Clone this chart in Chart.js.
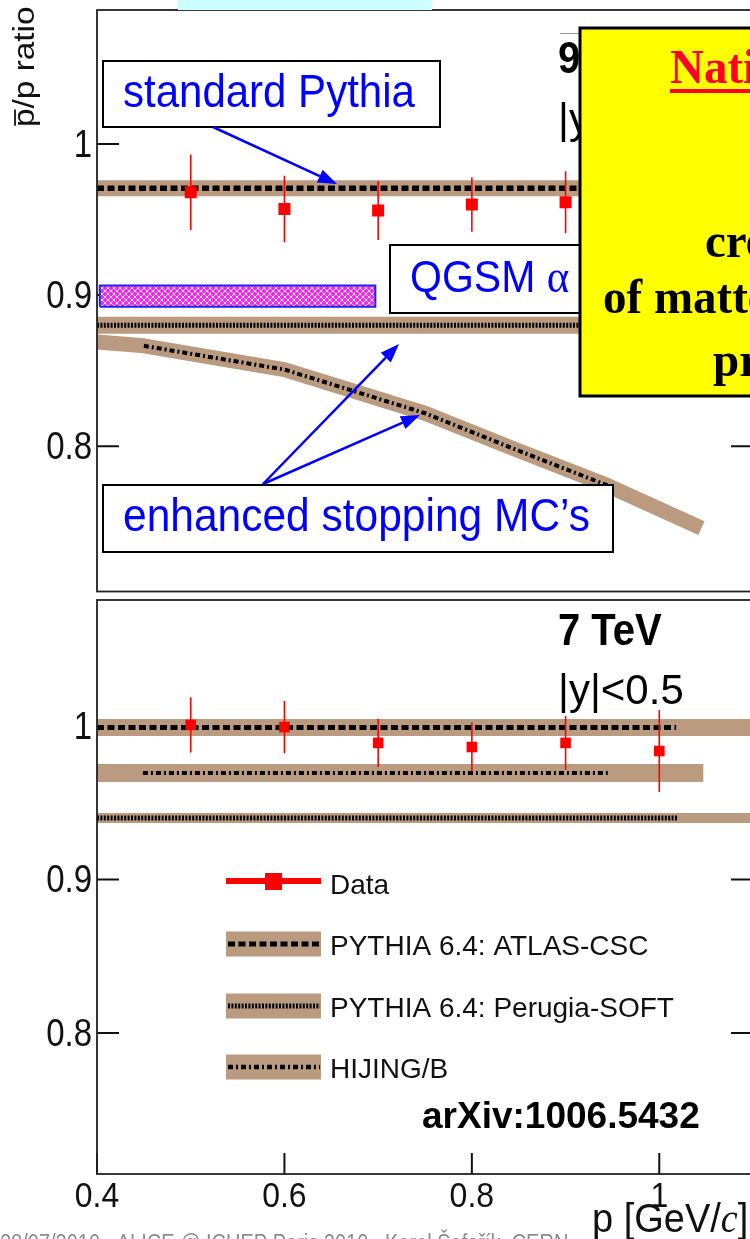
<!DOCTYPE html>
<html>
<head>
<meta charset="utf-8">
<title>pbar/p ratio</title>
<script src="https://cdn.jsdelivr.net/npm/chart.js@4.4.1/dist/chart.umd.min.js"></script>
<style>
  html, body { margin: 0; padding: 0; background: #fff; overflow: hidden; }
  #wrap { position: relative; width: 750px; height: 1239px; overflow: hidden; }
  #topChart { position: absolute; left: 0; top: 0; }
  #bottomChart { position: absolute; left: 0; top: 590px; }
</style>
</head>
<body>
<div id="wrap">
  <canvas id="topChart" width="800" height="600"></canvas>
  <canvas id="bottomChart" width="800" height="650"></canvas>
</div>
<script>
// Данные верхней панели (900 GeV)
var dataX900 = [0.5, 0.6, 0.7, 0.8, 0.9];
var ratio900 = [0.968, 0.957, 0.956, 0.960, 0.9615];
var error900 = [0.025, 0.022, 0.0195, 0.018, 0.0205];
var atlas900X = [0.4, 1.1];
var atlas900Y = [0.9707, 0.9707];
var perugia900X = [0.4, 1.1];
var perugia900Y = [0.880, 0.880];
var hijing900X = [0.4, 0.45, 0.6, 0.75, 0.845, 0.945, 1.045];
var hijing900Y = [0.869, 0.8664, 0.8507, 0.8218, 0.7982, 0.7739, 0.7457];
var qgsmX = [0.403, 0.697];
var qgsmY = [0.8923, 0.9064];

// Данные нижней панели (7 TeV)
var dataX7 = [0.5, 0.6, 0.7, 0.8, 0.9, 1.0];
var ratio7 = [1.0007, 0.9993, 0.989, 0.9863, 0.989, 0.9837];
var error7 = [0.018, 0.017, 0.0157, 0.016, 0.0176, 0.0267];
var atlas7X = [0.4, 1.1];
var atlas7LineX = [0.4, 1.018];
var atlas7Y = [0.999, 0.999];
var hijing7X = [0.4, 1.047];
var hijing7LineX = [0.449, 0.945];
var hijing7Y = [0.9694, 0.9694];
var perugia7X = [0.4, 1.1];
var perugia7LineX = [0.4, 1.02];
var perugia7Y = [0.940, 0.940];

// Оси
var xTicks = [0.4, 0.6, 0.8, 1];
var xTickLabels = ['0.4', '0.6', '0.8', '1'];
var yTicks = [1, 0.9, 0.8];
var yTickLabels = ['1', '0.9', '0.8'];
var legendLabels = ['Data', 'PYTHIA 6.4: ATLAS-CSC', 'PYTHIA 6.4: Perugia-SOFT', 'HIJING/B'];

var SANS = "'Liberation Sans', Arial, sans-serif";
var SERIF = "'Liberation Serif', 'Times New Roman', serif";
var BAND = 'rgb(186,155,128)';
var BLUE = '#0000ff';
var ATLAS_DASH = [7, 3.5];
var PERUGIA_DASH = [2, 1.4];
var HIJING_DASH = [5, 3, 2, 3];

function toPoints(xs, ys) {
  return xs.map(function(x, i) { return { x: x, y: ys[i] }; });
}

function dataSet(xs, ys, errs, radius) {
  return {
    data: toPoints(xs, ys),
    errors: errs,
    showLine: false,
    pointStyle: 'rect',
    pointRadius: radius,
    backgroundColor: '#ff0000',
    borderWidth: 0
  };
}

function bandSet(xs, ys, width) {
  return {
    data: toPoints(xs, ys),
    showLine: true,
    borderColor: BAND,
    borderWidth: width,
    borderCapStyle: 'butt',
    borderJoinStyle: 'round',
    pointRadius: 0,
    tension: 0,
    fill: false
  };
}

function lineSet(xs, ys, dash, width) {
  return {
    data: toPoints(xs, ys),
    showLine: true,
    borderColor: '#000',
    borderWidth: width,
    borderDash: dash,
    borderCapStyle: 'butt',
    pointRadius: 0,
    tension: 0,
    fill: false
  };
}

// Штриховка для полосы QGSM
function makeHatch() {
  var c = document.createElement('canvas');
  c.width = 6; c.height = 6;
  var g = c.getContext('2d');
  g.fillStyle = '#ff22ff';
  g.fillRect(0, 0, 6, 6);
  g.strokeStyle = 'rgba(255,255,255,0.9)';
  g.lineWidth = 1;
  g.beginPath();
  g.moveTo(0, 0); g.lineTo(6, 6);
  g.moveTo(6, 0); g.lineTo(0, 6);
  g.stroke();
  return g.createPattern(c, 'repeat');
}

function qgsmSet() {
  var xs = [qgsmX[0], qgsmX[0], qgsmX[1], qgsmX[1], qgsmX[0]];
  var ys = [qgsmY[0], qgsmY[1], qgsmY[1], qgsmY[0], qgsmY[0]];
  return {
    data: toPoints(xs, ys),
    showLine: true,
    borderColor: '#2020ff',
    borderWidth: 2,
    backgroundColor: makeHatch(),
    pointRadius: 0,
    tension: 0,
    fill: 'shape'
  };
}

// Текст, растянутый по вертикали (как на исходном слайде)
function stretchText(ctx, text, x, y, sy) {
  ctx.save();
  ctx.translate(x, y);
  ctx.scale(1, sy);
  ctx.fillText(text, 0, 0);
  ctx.restore();
}

// Засечки, рамка и погрешности
function drawTicks(chart) {
  var ctx = chart.ctx, a = chart.chartArea, y = chart.scales.y;
  ctx.save();
  ctx.strokeStyle = '#111';
  ctx.lineWidth = 2;
  yTicks.forEach(function(v) {
    var py = y.getPixelForValue(v);
    ctx.beginPath();
    ctx.moveTo(a.left, py); ctx.lineTo(a.left + 22, py);
    ctx.moveTo(a.right - 22, py); ctx.lineTo(a.right, py);
    ctx.stroke();
  });
  ctx.restore();
}

function drawErrors(chart) {
  var ctx = chart.ctx, xs = chart.scales.x, ys = chart.scales.y;
  chart.data.datasets.forEach(function(ds) {
    if (!ds.errors) return;
    ctx.save();
    ctx.strokeStyle = '#ff0000';
    ctx.lineWidth = 1.6;
    ds.data.forEach(function(p, i) {
      var px = xs.getPixelForValue(p.x);
      ctx.beginPath();
      ctx.moveTo(px, ys.getPixelForValue(p.y + ds.errors[i]));
      ctx.lineTo(px, ys.getPixelForValue(p.y - ds.errors[i]));
      ctx.stroke();
    });
    ctx.restore();
  });
}

function drawFrame(chart) {
  var ctx = chart.ctx, a = chart.chartArea;
  ctx.save();
  ctx.strokeStyle = '#222';
  ctx.lineWidth = 1.8;
  ctx.strokeRect(a.left, a.top, a.right - a.left, a.bottom - a.top);
  ctx.restore();
}

function drawYLabels(chart) {
  var ctx = chart.ctx, y = chart.scales.y, a = chart.chartArea;
  ctx.save();
  ctx.fillStyle = '#111';
  ctx.font = '33px ' + SANS;
  ctx.textAlign = 'right';
  yTicks.forEach(function(v, i) {
    stretchText(ctx, yTickLabels[i], a.left - 5, y.getPixelForValue(v) + 13, 1.15);
  });
  ctx.restore();
}

function textBox(ctx, x, y, w, h) {
  ctx.fillStyle = '#fff';
  ctx.fillRect(x, y, w, h);
  ctx.strokeStyle = '#000';
  ctx.lineWidth = 2;
  ctx.strokeRect(x, y, w, h);
}

function arrow(ctx, x1, y1, x2, y2) {
  var ang = Math.atan2(y2 - y1, x2 - x1);
  var len = 19, half = 7;
  var bx = x2 - Math.cos(ang) * len, by = y2 - Math.sin(ang) * len;
  ctx.strokeStyle = BLUE;
  ctx.fillStyle = BLUE;
  ctx.lineWidth = 2.5;
  ctx.beginPath();
  ctx.moveTo(x1, y1); ctx.lineTo(bx, by);
  ctx.stroke();
  ctx.beginPath();
  ctx.moveTo(x2, y2);
  ctx.lineTo(bx + Math.sin(ang) * half, by - Math.cos(ang) * half);
  ctx.lineTo(bx - Math.sin(ang) * half, by + Math.cos(ang) * half);
  ctx.closePath();
  ctx.fill();
}

// Плагин верхней панели
var topPanelPlugin = {
  id: 'topPanel',
  beforeDatasetsDraw: function(chart) { drawTicks(chart); },
  afterDatasetsDraw: function(chart) {
    var ctx = chart.ctx;
    drawErrors(chart);
    drawFrame(chart);
    drawYLabels(chart);

    ctx.save();
    // голубая полоска сверху
    ctx.fillStyle = '#ccffff';
    ctx.fillRect(178, 0, 254, 10);

    // подпись оси Y
    ctx.save();
    ctx.translate(34, 127);
    ctx.rotate(-Math.PI / 2);
    ctx.scale(1.15, 1);
    ctx.fillStyle = '#111';
    ctx.font = '29px ' + SANS;
    ctx.fillText('p/p ratio', 0, 0);
    var pw = ctx.measureText('p').width;
    ctx.strokeStyle = '#111';
    ctx.lineWidth = 1.8;
    ctx.beginPath();
    ctx.moveTo(1, -19); ctx.lineTo(pw - 1, -19);
    ctx.stroke();
    ctx.restore();

    // энергия и быстрота
    ctx.fillStyle = '#000';
    ctx.font = 'bold 40px ' + SANS;
    stretchText(ctx, '900 GeV', 558, 73, 1.1);
    ctx.font = '42px ' + SANS;
    ctx.fillText('|y|<0.5', 558, 133);
    ctx.strokeStyle = '#999';
    ctx.lineWidth = 1;
    ctx.beginPath();
    ctx.moveTo(560, 33.5); ctx.lineTo(600, 33.5);
    ctx.stroke();

    // аннотации
    textBox(ctx, 103, 61, 337, 66);
    textBox(ctx, 390, 245, 220, 68);
    textBox(ctx, 103, 485, 510, 67);
    ctx.fillStyle = BLUE;
    ctx.font = '42px ' + SANS;
    stretchText(ctx, 'standard Pythia', 123, 107, 1.1);
    ctx.font = '42.5px ' + SANS;
    stretchText(ctx, 'enhanced stopping MC\u2019s', 123, 531, 1.1);
    ctx.font = '41px ' + SANS;
    stretchText(ctx, 'QGSM ', 410, 292, 1.1);
    var qw = ctx.measureText('QGSM ').width;
    ctx.font = '43px ' + SERIF;
    stretchText(ctx, '\u03b1', 410 + qw, 292, 1.1);

    arrow(ctx, 213, 127, 337, 184);
    arrow(ctx, 263, 484, 399, 344);
    arrow(ctx, 263, 484, 420, 415);

    // жёлтая вставка
    ctx.fillStyle = '#ffff00';
    ctx.fillRect(580, 28, 220, 368);
    ctx.strokeStyle = '#000';
    ctx.lineWidth = 3;
    ctx.strokeRect(580, 28, 220, 368);
    ctx.font = 'bold 47px ' + SERIF;
    ctx.fillStyle = '#ff0022';
    stretchText(ctx, 'Native', 670, 83, 1.05);
    ctx.fillRect(670, 89, ctx.measureText('Native').width, 4);
    ctx.fillStyle = '#000';
    stretchText(ctx, 'created', 705, 257, 1.05);
    stretchText(ctx, 'of matter', 603, 313, 1.05);
    stretchText(ctx, 'production', 713, 376, 1.05);
    ctx.restore();
  }
};

// Плагин нижней панели
var bottomPanelPlugin = {
  id: 'bottomPanel',
  beforeDatasetsDraw: function(chart) {
    var ctx = chart.ctx, a = chart.chartArea, x = chart.scales.x;
    drawTicks(chart);
    ctx.save();
    ctx.strokeStyle = '#111';
    ctx.lineWidth = 2;
    xTicks.forEach(function(v) {
      var px = x.getPixelForValue(v);
      ctx.beginPath();
      ctx.moveTo(px, a.bottom); ctx.lineTo(px, a.bottom - 21);
      ctx.stroke();
    });
    ctx.restore();
  },
  afterDatasetsDraw: function(chart) {
    var ctx = chart.ctx, a = chart.chartArea, x = chart.scales.x;
    drawErrors(chart);
    drawFrame(chart);
    drawYLabels(chart);

    ctx.save();
    // нижний колонтитул (виден только верх строки)
    ctx.fillStyle = '#8c8c8c';
    ctx.font = '20px ' + SANS;
    stretchText(ctx, '28/07/2010   ALICE @ ICHEP Paris 2010   Karel \u0160afa\u0159\u00edk, CERN', 0, 661, 1.15);

    // подписи оси X
    ctx.fillStyle = '#111';
    ctx.font = '32px ' + SANS;
    ctx.textAlign = 'center';
    xTicks.forEach(function(v, i) {
      stretchText(ctx, xTickLabels[i], x.getPixelForValue(v), a.bottom + 33, 1.12);
    });
    ctx.textAlign = 'left';
    ctx.font = '38px ' + SANS;
    var tx = 592;
    stretchText(ctx, 'p [GeV/', tx, 642, 1.05);
    tx += ctx.measureText('p [GeV/').width;
    ctx.font = 'italic 38px ' + SERIF;
    stretchText(ctx, 'c', tx, 642, 1.05);
    tx += ctx.measureText('c').width;
    ctx.font = '38px ' + SANS;
    stretchText(ctx, ']', tx, 642, 1.05);

    // энергия, быстрота, ссылка
    ctx.fillStyle = '#000';
    ctx.font = 'bold 40px ' + SANS;
    stretchText(ctx, '7 TeV', 558, 55, 1.1);
    ctx.font = '42px ' + SANS;
    ctx.fillText('|y|<0.5', 558, 114);
    ctx.font = 'bold 37px ' + SANS;
    ctx.fillText('arXiv:1006.5432', 422, 538);

    // легенда
    var rows = [291, 354, 416, 477];
    var dashes = [null, ATLAS_DASH, PERUGIA_DASH, HIJING_DASH];
    var widths = [0, 5, 5, 4.5];
    rows.forEach(function(cy, i) {
      if (i === 0) {
        ctx.fillStyle = '#ff0000';
        ctx.fillRect(226, cy - 3, 95, 6);
        ctx.fillRect(265, cy - 8, 17, 17);
      } else {
        ctx.fillStyle = BAND;
        ctx.fillRect(226, cy - 12.5, 95, 25);
        ctx.strokeStyle = '#000';
        ctx.lineWidth = widths[i];
        ctx.setLineDash(dashes[i]);
        ctx.beginPath();
        ctx.moveTo(228, cy); ctx.lineTo(320, cy);
        ctx.stroke();
        ctx.setLineDash([]);
      }
      ctx.fillStyle = '#111';
      ctx.font = '28px ' + SANS;
      ctx.fillText(legendLabels[i], 330, cy + (i === 0 ? 13 : 11));
    });
    ctx.restore();
  }
};

function baseOptions(yMin, yMax, padding) {
  return {
    responsive: false,
    animation: false,
    events: [],
    layout: { padding: padding },
    plugins: { legend: { display: false }, tooltip: { enabled: false } },
    scales: {
      x: { type: 'linear', min: 0.4, max: 1.1, display: false },
      y: { type: 'linear', min: yMin, max: yMax, display: false }
    }
  };
}

document.addEventListener('DOMContentLoaded', function() {
  // Верхняя панель: 900 GeV
  new Chart(document.getElementById('topChart'), {
    type: 'scatter',
    data: {
      datasets: [
        dataSet(dataX900, ratio900, error900, 8.5),
        lineSet(atlas900X, atlas900Y, ATLAS_DASH, 5.5),
        lineSet(perugia900X, perugia900Y, PERUGIA_DASH, 5),
        lineSet(hijing900X.slice(1, 6), hijing900Y.slice(1, 6), HIJING_DASH, 4),
        bandSet(atlas900X, atlas900Y, 16),
        bandSet(perugia900X, perugia900Y, 17),
        bandSet(hijing900X, hijing900Y, 15),
        qgsmSet()
      ]
    },
    options: baseOptions(0.7038, 1.0887, { left: 97, right: 47, top: 10, bottom: 3 }),
    plugins: [topPanelPlugin]
  });

  // Нижняя панель: 7 TeV
  new Chart(document.getElementById('bottomChart'), {
    type: 'scatter',
    data: {
      datasets: [
        dataSet(dataX7, ratio7, error7, 7.5),
        lineSet(atlas7LineX, atlas7Y, ATLAS_DASH, 5),
        lineSet(hijing7LineX, hijing7Y, HIJING_DASH, 4),
        lineSet(perugia7LineX, perugia7Y, PERUGIA_DASH, 5),
        bandSet(atlas7X, atlas7Y, 17),
        bandSet(hijing7X, hijing7Y, 18),
        bandSet(perugia7X, perugia7Y, 10)
      ]
    },
    options: baseOptions(0.7081, 1.0821, { left: 97, right: 47, top: 10, bottom: 66 }),
    plugins: [bottomPanelPlugin]
  });
});
</script>
</body>
</html>
